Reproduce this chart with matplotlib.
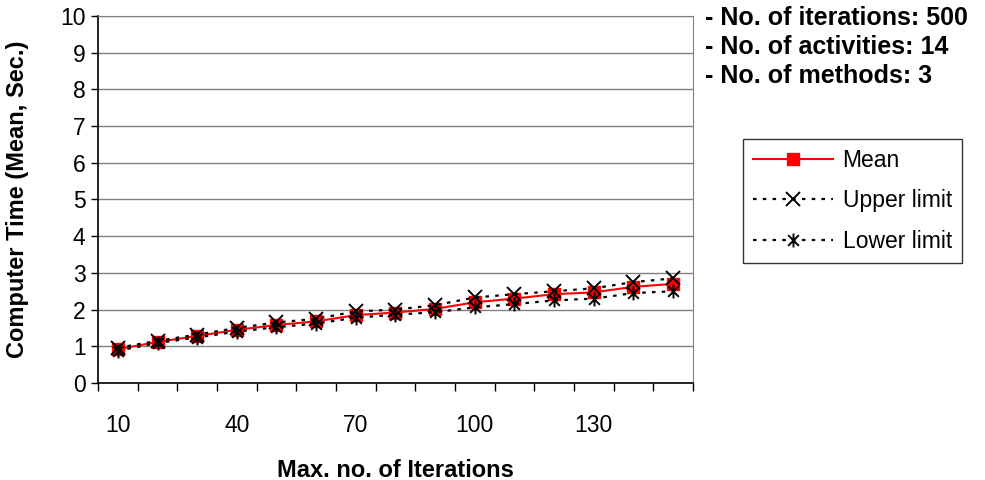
import numpy as np
import matplotlib.pyplot as plt
from matplotlib.path import Path

plt.rcParams['font.family'] = ['Liberation Sans', 'DejaVu Sans']

iterations = [10, 20, 30, 40, 50, 60, 70, 80, 90, 100, 110, 120, 130, 140, 150]
mean_time = [0.92, 1.12, 1.28, 1.45, 1.58, 1.68, 1.85, 1.92, 2.02, 2.2, 2.3, 2.42, 2.47, 2.62, 2.7]
upper_limit = [0.96, 1.15, 1.32, 1.5, 1.65, 1.75, 1.95, 2.0, 2.12, 2.33, 2.42, 2.5, 2.58, 2.75, 2.85]
lower_limit = [0.88, 1.09, 1.24, 1.4, 1.52, 1.62, 1.78, 1.86, 1.93, 2.06, 2.15, 2.25, 2.3, 2.45, 2.5]
tick_labels = ['10', '40', '70', '100', '130']
notes = ['- No. of iterations: 500', '- No. of activities: 14', '- No. of methods: 3']

# excel style star: x plus a vertical bar
star = Path([(-1, -1), (1, 1), (-1, 1), (1, -1), (0, -1.3), (0, 1.3)],
            [Path.MOVETO, Path.LINETO, Path.MOVETO, Path.LINETO, Path.MOVETO, Path.LINETO])

fig = plt.figure(figsize=(9.85, 4.8), dpi=100)
ax = fig.add_axes([0.0995, 0.202, 0.604, 0.765])

x = np.arange(len(iterations))
dot = (0, (1.6, 2.8))
ax.plot(x, mean_time, color='red', lw=1.5, marker='s', ms=8, mfc='red', mec='red',
        label='Mean', zorder=3)
ax.plot(x, upper_limit, color='black', lw=1.6, ls=dot, marker='x', ms=10, mew=1.4,
        label='Upper limit', zorder=4)
ax.plot(x, lower_limit, color='black', lw=1.6, ls=dot, marker=star, ms=10, mew=1.4,
        label='Lower limit', zorder=4)

ax.set_xlim(-0.5, len(iterations) - 0.5)
ax.set_ylim(0, 10)
ax.set_yticks(range(0, 11))
ax.yaxis.grid(True, color='#808080', lw=1)
ax.set_axisbelow(True)

# ticks between categories, labels on every third category
ax.set_xticks(np.arange(-0.5, len(iterations), 1))
ax.set_xticklabels([])
ax.set_xticks(x[::3], minor=True)
ax.set_xticklabels(tick_labels, minor=True)
ax.tick_params(axis='x', which='major', length=6, width=1, direction='out')
ax.tick_params(axis='x', which='minor', length=0, pad=22, labelsize=16.5)
ax.tick_params(axis='y', length=5, width=1, labelsize=16.5, pad=4)

for s in ['top', 'right']:
    ax.spines[s].set_color('#808080')
for s in ['left', 'bottom']:
    ax.spines[s].set_color('black')
    ax.spines[s].set_linewidth(1.2)

ax.set_xlabel('Max. no. of Iterations', fontsize=17, fontweight='bold', labelpad=16)
ax.set_ylabel('Computer Time (Mean, Sec.)', fontsize=17, fontweight='bold', labelpad=22)

for i, t in enumerate(notes):
    fig.text(0.716, 0.962 - i * 0.06, t, fontsize=18, fontweight='bold', va='center')

leg = ax.legend(loc='upper left', bbox_to_anchor=(1.084, 0.665), fontsize=16.5,
                frameon=True, fancybox=False, edgecolor='black', borderaxespad=0,
                handlelength=3.5, handletextpad=0.4, labelspacing=0.75, borderpad=0.45)
leg.get_frame().set_linewidth(1)

fig.savefig('out.png', dpi=100)
